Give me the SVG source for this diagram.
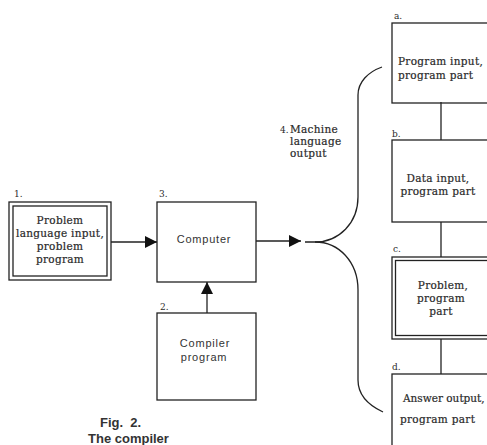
<svg xmlns="http://www.w3.org/2000/svg" width="487" height="445" viewBox="0 0 487 445">
<style>
  .box { fill: none; stroke: #222; stroke-width: 1.3; }
  .ln { fill: none; stroke: #222; stroke-width: 1.3; }
  .tx { font-family: "DejaVu Serif", "Liberation Serif", serif; font-size: 10.5px; fill: #2a2a2a; stroke: #2a2a2a; stroke-width: 0.2; letter-spacing: 0.3px; }
  .lb { font-family: "DejaVu Serif", "Liberation Serif", serif; font-size: 9px; fill: #2a2a2a; }
  .sx { font-family: "Liberation Sans", Arial, sans-serif; font-size: 11px; fill: #333; letter-spacing: 0.8px; }
  .cap { font-family: "Liberation Sans", Arial, sans-serif; font-size: 13px; font-weight: bold; fill: #333; }
  .mid { text-anchor: middle; }
</style>
<defs>
  <marker id="ah" markerUnits="userSpaceOnUse" markerWidth="12" markerHeight="12" refX="12" refY="6" orient="auto">
    <path d="M0,0 L12,6 L0,12 z" fill="#111"/>
  </marker>
</defs>
<rect width="487" height="445" fill="#fff"/>

<g id="connectors">
  <path class="ln" d="M111,242 L157,242" marker-end="url(#ah)"/>
  <path class="ln" d="M256,241 L301,241" marker-end="url(#ah)"/>
  <path class="ln" d="M207,313 L207,282" marker-end="url(#ah)"/>
  <path class="ln" d="M305,242 L315,242 C339,242 358,223 358,197 L358,95 C358,82 368,72 382,67"/>
  <path class="ln" d="M315,242 C339,242 358,262 358,290 L358,380 C358,395 368,405 383,412"/>
  <path class="ln" d="M441,102 L441,140"/>
  <path class="ln" d="M441,222 L441,257"/>
  <path class="ln" d="M441,339 L441,374"/>
</g>

<g id="node1">
  <rect class="box" x="9" y="202" width="102" height="78"/>
  <rect class="box" x="13" y="206" width="94" height="70"/>
  <text class="lb" x="14" y="197">1.</text>
  <text class="tx mid" x="60" y="224">Problem</text>
  <text class="tx mid" x="60" y="237">language input,</text>
  <text class="tx mid" x="60" y="250">problem</text>
  <text class="tx mid" x="60" y="263">program</text>
</g>

<g id="node3">
  <rect class="box" x="157" y="202" width="99" height="80"/>
  <text class="lb" x="159" y="197">3.</text>
  <text class="sx mid" x="204" y="243">Computer</text>
</g>

<g id="node2">
  <rect class="box" x="157" y="313" width="99" height="87"/>
  <text class="lb" x="160" y="310">2.</text>
  <text class="sx mid" x="205" y="347">Compiler</text>
  <text class="sx mid" x="204" y="361">program</text>
</g>

<g id="node4">
  <text class="lb" x="280" y="133">4.</text>
  <text class="tx" x="290" y="133">Machine</text>
  <text class="tx" x="290" y="145">language</text>
  <text class="tx" x="290" y="157">output</text>
</g>

<g id="nodeA">
  <rect class="box" x="392" y="23" width="110" height="80"/>
  <text class="lb" x="394" y="19">a.</text>
  <text class="tx" x="398" y="65">Program input,</text>
  <text class="tx" x="398" y="79">program part</text>
</g>

<g id="nodeB">
  <rect class="box" x="392" y="140" width="110" height="82"/>
  <text class="lb" x="392" y="137">b.</text>
  <text class="tx mid" x="438" y="182">Data input,</text>
  <text class="tx mid" x="438" y="195">program part</text>
</g>

<g id="nodeC">
  <rect class="box" x="392" y="257" width="110" height="82"/>
  <rect class="box" x="395.5" y="260.5" width="110" height="75"/>
  <text class="lb" x="393" y="252">c.</text>
  <text class="tx mid" x="443" y="289">Problem,</text>
  <text class="tx mid" x="441" y="302">program</text>
  <text class="tx mid" x="441" y="315">part</text>
</g>

<g id="nodeD">
  <rect class="box" x="392" y="374" width="110" height="90"/>
  <text class="lb" x="392" y="370">d.</text>
  <text class="tx" x="403" y="402" style="letter-spacing:0">Answer output,</text>
  <text class="tx" x="400" y="423">program part</text>
</g>

<g id="caption">
  <text class="cap" x="100" y="427" xml:space="preserve">Fig.  2.</text>
  <text class="cap" x="88" y="443">The compiler</text>
</g>
</svg>
